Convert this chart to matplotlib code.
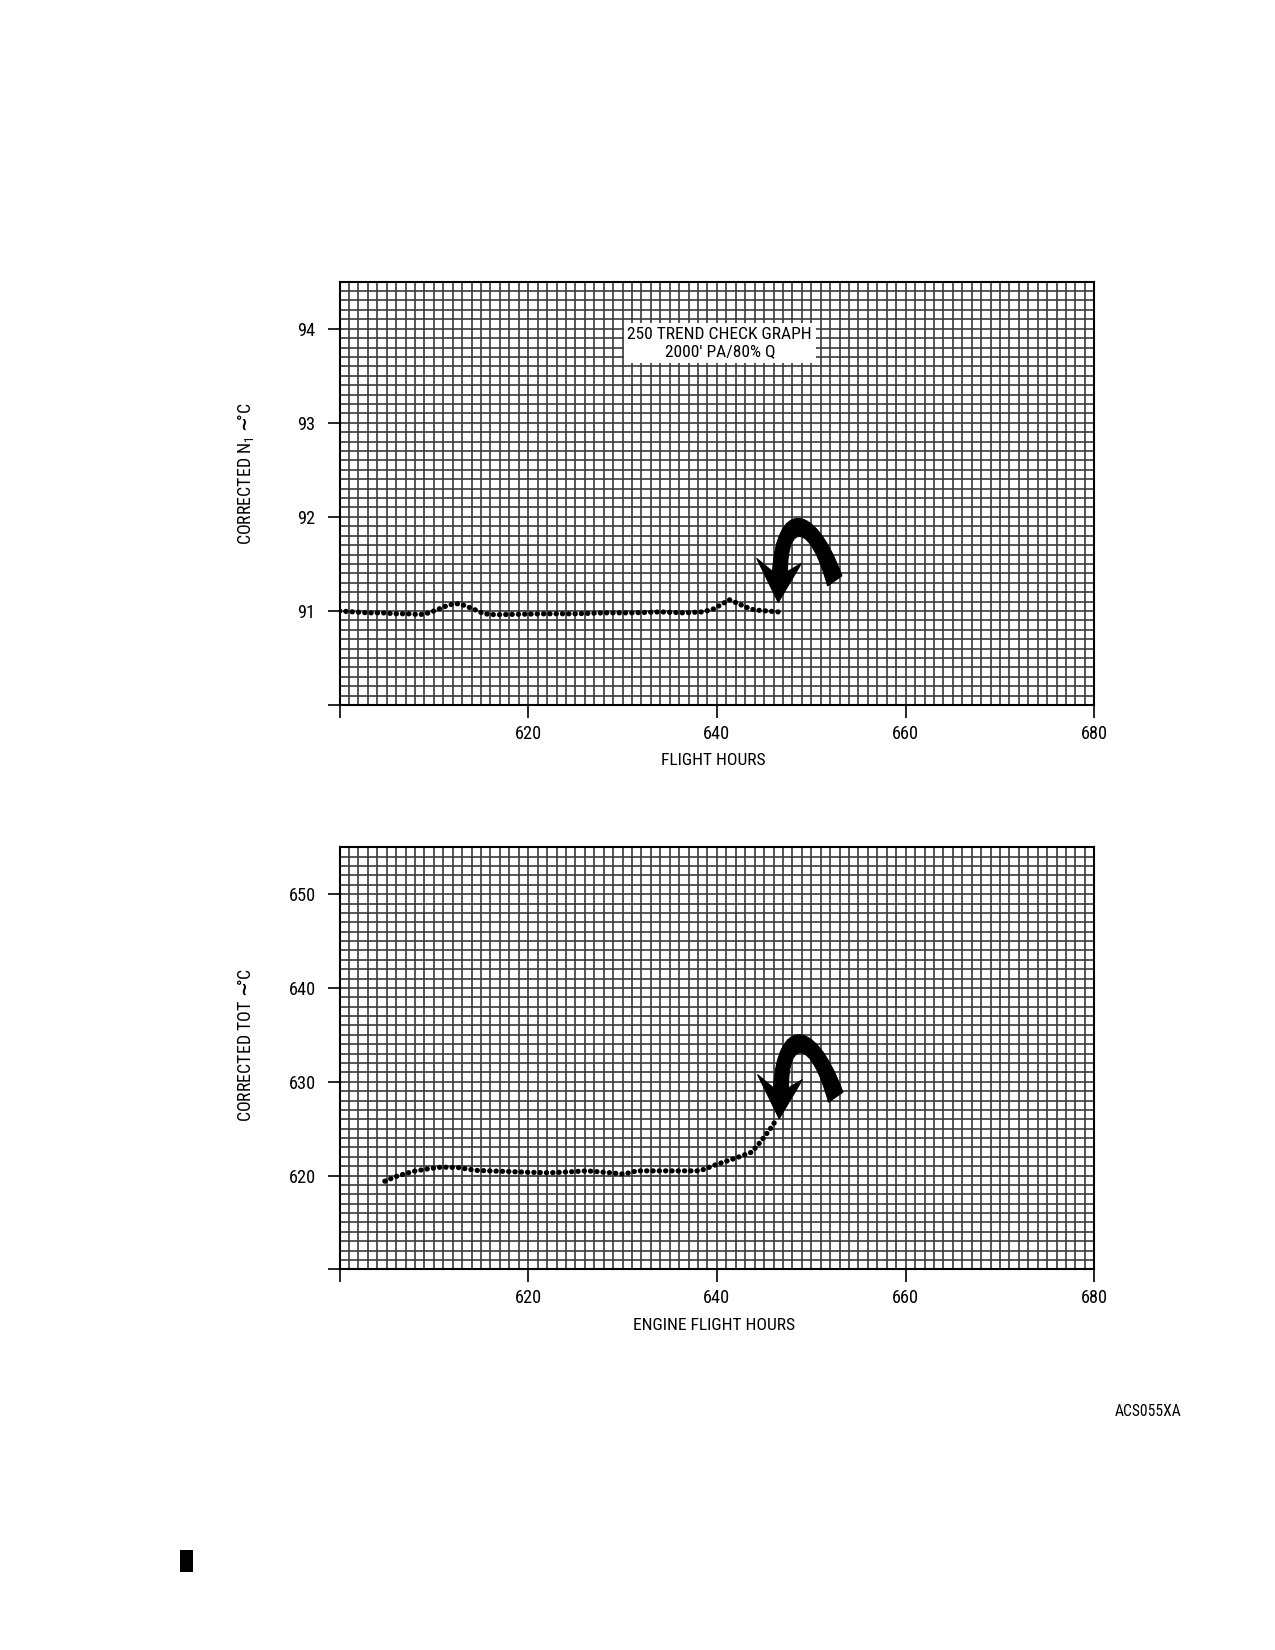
import matplotlib
matplotlib.use('Agg')
import matplotlib.pyplot as plt
from matplotlib.patches import PathPatch, Rectangle
from matplotlib.path import Path
from matplotlib.transforms import Affine2D, ScaledTranslation
import numpy as np

fams = ['Liberation Sans Narrow', 'Roboto Condensed', 'Roboto', 'DejaVu Sans']
plt.rcParams['font.family'] = fams
plt.rcParams['mathtext.fontset'] = 'custom'
plt.rcParams['mathtext.rm'] = 'Roboto Condensed'
plt.rcParams['mathtext.it'] = 'Roboto Condensed'
plt.rcParams['mathtext.bf'] = 'DejaVu Sans:bold'

# graphe du haut : N1 corrige
n1_hours = [600, 601.5, 603, 604.5, 606, 607.5, 608.5, 609.5, 610.5, 611.5, 612.3,
            613.2, 614.2, 615.3, 616.5, 619, 622, 625, 628, 631, 634, 636.5,
            638.5, 639.6, 640.5, 641.3, 642.2, 643.1, 644, 645.3, 646.5]
n1_values = [91.00, 90.99, 90.98, 90.98, 90.97, 90.97, 90.96, 90.98, 91.02, 91.06, 91.08,
             91.06, 91.02, 90.97, 90.96, 90.965, 90.97, 90.97, 90.98, 90.98, 90.99, 90.98,
             90.99, 91.02, 91.07, 91.12, 91.08, 91.04, 91.01, 91.00, 90.99]

# graphe du bas : TOT corrige
tot_hours = [604.8, 606.0, 607.8, 609.3, 610.8, 612.6, 614.5, 617.3, 620, 622.3, 624.5,
             626.2, 628.7, 630.1, 631.5, 634.7, 638.2, 640.0, 642.1, 643.7, 644.7,
             645.6, 646.2]
tot_values = [619.4, 619.9, 620.45, 620.7, 620.9, 620.85, 620.55, 620.45, 620.35, 620.3, 620.4,
              620.5, 620.3, 620.15, 620.5, 620.5, 620.5, 621.2, 621.9, 622.5, 623.7,
              624.9, 625.8]

x_ticks = [600, 620, 640, 660, 680]
x_labels = ['', '620', '640', '660', '680']
n1_ticks = [90, 91, 92, 93, 94]
n1_labels = ['', '91', '92', '93', '94']
tot_ticks = [610, 620, 630, 640, 650]
tot_labels = ['', '620', '630', '640', '650']

# pointe des fleches en U (heures, valeur)
n1_arrow_tip = (646.5, 91.09)
tot_arrow_tip = (646.6, 626.05)

# contour de la fleche, en pixels autour de la pointe (x vers la droite, y vers le haut)
fleche_pts = [(-5.7, 31), (-2, 100), (35, 105), (63.7, 26.6),
              (49.3, 16.6), (32, 80), (9, 80), (9.3, 31),
              (23.3, 39.3), (0, 0), (-21.7, 44.3), (-5.7, 31)]
fleche_codes = [Path.MOVETO, Path.CURVE4, Path.CURVE4, Path.CURVE4,
                Path.LINETO, Path.CURVE4, Path.CURVE4, Path.CURVE4,
                Path.LINETO, Path.LINETO, Path.LINETO, Path.CLOSEPOLY]

fig = plt.figure(figsize=(8.5, 11), dpi=150)
fig.patch.set_facecolor('white')

ax1 = fig.add_axes([0.2663, 0.5727, 0.5920, 0.2566])
ax2 = fig.add_axes([0.2663, 0.2307, 0.5920, 0.2558])


def grille(ax, yticks, ylabels, ymin, ymax, ystep):
    ax.set_xlim(600, 680)
    ax.set_ylim(ymin, ymax)
    ax.set_xticks(x_ticks)
    ax.set_xticklabels(x_labels)
    ax.set_yticks(yticks)
    ax.set_yticklabels(ylabels)
    ax.set_xticks(np.arange(600, 681, 1), minor=True)
    ax.set_yticks(np.arange(ymin, ymax + ystep / 2, ystep), minor=True)
    ax.grid(which='both', color='#3a3a3a', linewidth=0.8)
    ax.set_axisbelow(True)
    ax.tick_params(which='minor', length=0)
    ax.tick_params(which='major', direction='out', length=6, width=0.8,
                   labelsize=8.8, color='black')
    ax.tick_params(axis='y', pad=5.5)
    ax.tick_params(axis='x', pad=3.5)
    for s in ax.spines.values():
        s.set_linewidth(1.0)
        s.set_color('black')


grille(ax1, n1_ticks, n1_labels, 90, 94.5, 0.1)
grille(ax2, tot_ticks, tot_labels, 610, 655, 1)

for ax, hx, vy in [(ax1, n1_hours, n1_values), (ax2, tot_hours, tot_values)]:
    ax.plot(hx, vy, color='black', linewidth=2.5, linestyle=(0, (0.05, 1.16)),
            dash_capstyle='round', zorder=3)

fleche = Path(fleche_pts, fleche_codes)
for ax, tip in [(ax1, n1_arrow_tip), (ax2, tot_arrow_tip)]:
    tr = Affine2D().scale(fig.dpi / 150) + ScaledTranslation(tip[0], tip[1], ax.transData)
    ax.add_patch(PathPatch(fleche, facecolor='black', edgecolor='black', linewidth=0.5,
                           transform=tr, zorder=4))

ax1.text(640.3, 93.85, "250 TREND CHECK GRAPH\n2000' PA/80% Q", ha='center', va='center',
         fontsize=8.4, linespacing=1.2,
         bbox=dict(boxstyle='square,pad=0.2', facecolor='white', edgecolor='none'))

ax1.set_xlabel('FLIGHT HOURS', fontsize=8.4, va='center')
ax1.xaxis.set_label_coords(0.4956, -0.130)
ax1.set_ylabel(r'CORRECTED N$_1$ $\!\mathbf{\sim}\!\!\!$°C', fontsize=8.6, va='center')
ax1.yaxis.set_label_coords(-0.1243, 0.546)

ax2.set_xlabel('ENGINE FLIGHT HOURS', fontsize=8.4, va='center')
ax2.xaxis.set_label_coords(0.4956, -0.132)
ax2.set_ylabel(r'CORRECTED TOT $\!\mathbf{\sim}\!\!\!$°C', fontsize=8.6, va='center')
ax2.yaxis.set_label_coords(-0.1243, 0.531)

fig.text(1148 / 1275, 1 - 1412 / 1650, 'ACS055XA', ha='center', va='center', fontsize=7.5)
fig.patches.append(Rectangle((180 / 1275, 1 - 1572 / 1650), 13 / 1275, 22 / 1650,
                             transform=fig.transFigure, facecolor='black', edgecolor='none'))

fig.savefig('out.png', dpi=150, facecolor='white')
